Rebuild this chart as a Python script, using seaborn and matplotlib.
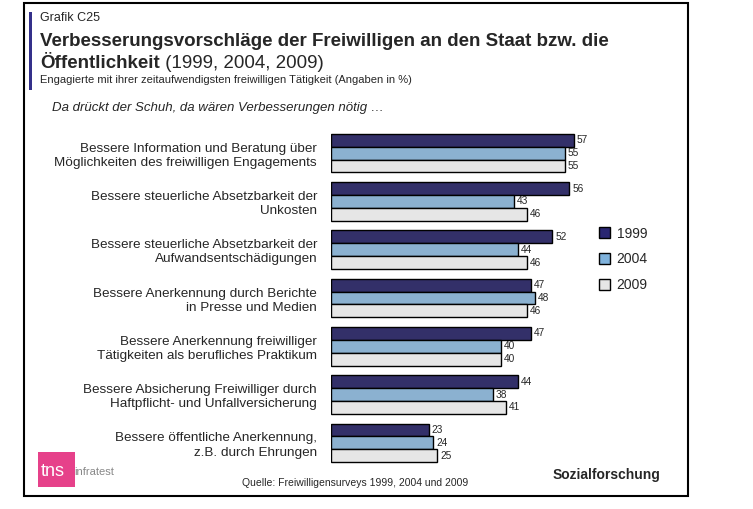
import pandas as pd
import numpy as np
import matplotlib
matplotlib.use("Agg")
import matplotlib.pyplot as plt
import seaborn as sns
from matplotlib.patches import Rectangle, Patch

# Daten
kategorien = [
    "Bessere Information und Beratung über\nMöglichkeiten des freiwilligen Engagements",
    "Bessere steuerliche Absetzbarkeit der\nUnkosten",
    "Bessere steuerliche Absetzbarkeit der\nAufwandsentschädigungen",
    "Bessere Anerkennung durch Berichte\nin Presse und Medien",
    "Bessere Anerkennung freiwilliger\nTätigkeiten als berufliches Praktikum",
    "Bessere Absicherung Freiwilliger durch\nHaftpflicht- und Unfallversicherung",
    "Bessere öffentliche Anerkennung,\nz.B. durch Ehrungen",
]
jahre = ["1999", "2004", "2009"]
werte_1999 = [57, 56, 52, 47, 47, 44, 23]
werte_2004 = [55, 43, 44, 48, 40, 38, 24]
werte_2009 = [55, 46, 46, 46, 40, 41, 25]
farben = ["#2a2672", "#7fb2dc", "#e6e6e6"]

df = pd.DataFrame({
    "Kategorie": kategorien * 3,
    "Jahr": [j for j in jahre for _ in kategorien],
    "Wert": werte_1999 + werte_2004 + werte_2009,
})

sns.set_style("white")
plt.rcParams["font.family"] = ["Liberation Sans", "DejaVu Sans"]

fig = plt.figure(figsize=(7.53, 5.09), dpi=100)
W, H = 753, 509

# Rahmen und Akzentbalken
fig.patches.append(Rectangle((24 / W, 1 - 496 / H), 664 / W, 493 / H, transform=fig.transFigure,
                             fill=False, edgecolor="black", linewidth=1.5))
fig.patches.append(Rectangle((29 / W, 1 - 90 / H), 3 / W, 78 / H, transform=fig.transFigure,
                             facecolor="#34308a", edgecolor="none"))

ax = fig.add_axes([331 / W, 42 / H, 298 / W, 338 / H])
sns.barplot(data=df, y="Kategorie", x="Wert", hue="Jahr", orient="h", palette=farben,
            width=0.8, edgecolor="black", linewidth=1.0, ax=ax, legend=False)
ax.set_xlim(0, 70)
ax.set_ylim(6.5, -0.5)
ax.set_xlabel("")
ax.set_ylabel("")
ax.set_xticks([])
for s in ax.spines.values():
    s.set_visible(False)
ax.tick_params(axis="y", length=0, pad=10, labelsize=9.7)
for lbl in ax.get_yticklabels():
    lbl.set_multialignment("right")
    lbl.set_linespacing(1.25)

for cont in ax.containers:
    ax.bar_label(cont, padding=2, fontsize=7.3)

# Legende
handles = [Patch(facecolor=c, edgecolor="black", label=j) for c, j in zip(farben, jahre)]
fig.legend(handles=handles, loc="upper left", bbox_to_anchor=(586 / W, 1 - 214 / H),
           frameon=False, fontsize=10, handlelength=0.8, handleheight=0.8,
           labelspacing=0.85, handletextpad=0.5)

# Texte
fig.text(40 / W, 1 - 18 / H, "Grafik C25", fontsize=9, va="center")
fig.text(40 / W, 1 - 42 / H, "Verbesserungsvorschläge der Freiwilligen an den Staat bzw. die",
         fontsize=13.5, fontweight="bold", va="center")
t = fig.text(40 / W, 1 - 63 / H, "Öffentlichkeit", fontsize=13.5, fontweight="bold", va="center")
fig.add_artist(plt.Annotation(" (1999, 2004, 2009)", xy=(1, 0.5), xycoords=t, fontsize=13.5,
                              va="center", annotation_clip=False))
fig.text(40 / W, 1 - 80 / H,
         "Engagierte mit ihrer zeitaufwendigsten freiwilligen Tätigkeit (Angaben in %)",
         fontsize=8, va="center")
fig.text(52 / W, 1 - 108 / H, "Da drückt der Schuh, da wären Verbesserungen nötig …",
         fontsize=9.5, style="italic", va="center")

fig.text(355 / W, 1 - 483 / H, "Quelle: Freiwilligensurveys 1999, 2004 und 2009",
         fontsize=7.5, ha="center", va="center")
fig.text(660 / W, 1 - 475 / H, "Sozialforschung", fontsize=10, fontweight="bold",
         ha="right", va="center")

# Logo
fig.patches.append(Rectangle((38 / W, 1 - 487 / H), 37 / W, 35 / H, transform=fig.transFigure,
                             facecolor="#e6418a", edgecolor="none"))
fig.text(41 / W, 1 - 472 / H, "tns", color="white", fontsize=13, va="center")
fig.text(74 / W, 1 - 472 / H, "infratest", color="#888888", fontsize=8, va="center")

fig.savefig("out.png", dpi=100)
